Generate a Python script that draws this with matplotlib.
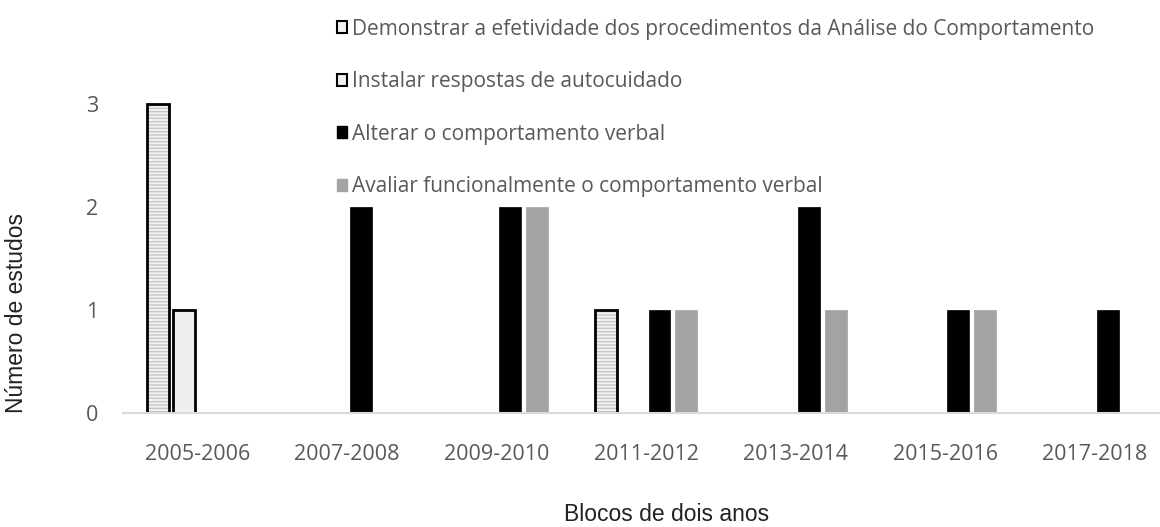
#!/usr/bin/env python3
# -*- coding: utf-8 -*-
"""Bar chart: number of studies per two-year block, by study objective."""

import numpy as np
import matplotlib
matplotlib.use("Agg")
import matplotlib.pyplot as plt
from matplotlib.patches import Patch

# ------------ DATA ------------
BLOCKS = ["2005-2006", "2007-2008", "2009-2010", "2011-2012",
          "2013-2014", "2015-2016", "2017-2018"]
SERIES = [
    "Demonstrar a efetividade dos procedimentos da Análise do Comportamento",
    "Instalar respostas de autocuidado",
    "Alterar o comportamento verbal",
    "Avaliar funcionalmente o comportamento verbal",
]
demonstrar = [3, 0, 0, 1, 0, 0, 0]
instalar   = [1, 0, 0, 0, 0, 0, 0]
alterar    = [0, 2, 2, 1, 2, 1, 1]
avaliar    = [0, 0, 2, 1, 1, 1, 0]
# ------------------------------

TICK_FONT = "Open Sans"
LABEL_FONT = "Liberation Sans"
TEXT_GRAY = "#595959"

fig = plt.figure(figsize=(11.6, 5.27), dpi=100)
ax = fig.add_axes([0.106, 0.2163, 0.902, 0.683])

x = np.arange(len(BLOCKS))
step = 0.179
w = 0.147
offs = [-1.5 * step, -0.5 * step, 0.5 * step, 1.5 * step]

# series 1: light fill with horizontal hatch, black outline drawn on top
ax.bar(x + offs[0], demonstrar, w, color="#f2f2f2", edgecolor="#c4c4c4",
       hatch="-----", linewidth=0)
ax.bar(x + offs[0], demonstrar, w, color="none", edgecolor="black", linewidth=2)
ax.bar(x + offs[1], instalar, w, color="#efefef", edgecolor="black", linewidth=2)
ax.bar(x + offs[2], alterar, w, color="black", edgecolor="black", linewidth=0.5)
ax.bar(x + offs[3], avaliar, w, color="#a3a3a3", edgecolor="#a3a3a3", linewidth=0.5)

ax.set_xlim(-0.5, len(BLOCKS) - 0.5)
ax.set_ylim(0, 3.5)
ax.set_yticks([0, 1, 2, 3])
ax.set_xticks(x)
ax.set_xticklabels(BLOCKS)

for side in ["top", "right", "left"]:
    ax.spines[side].set_visible(False)
ax.spines["bottom"].set_color("#d9d9d9")
ax.spines["bottom"].set_linewidth(1.5)
ax.tick_params(axis="both", length=0, labelsize=15.5, labelcolor=TEXT_GRAY)
ax.tick_params(axis="x", pad=22)
ax.tick_params(axis="y", pad=18)
for lab in ax.get_xticklabels() + ax.get_yticklabels():
    lab.set_fontfamily(TICK_FONT)

fig.text(0.575, 1 - 521 / 527, "Blocos de dois anos", ha="center", va="baseline",
         fontsize=16.5, family=LABEL_FONT, color="#222222")
fig.text(0.014, 0.406, "Número de estudos", ha="center", va="center",
         rotation=90, fontsize=16.5, family=LABEL_FONT, color="#222222")

handles = [
    Patch(facecolor="#f2f2f2", edgecolor="black", linewidth=1.5),
    Patch(facecolor="#efefef", edgecolor="black", linewidth=1.5),
    Patch(facecolor="black", edgecolor="black"),
    Patch(facecolor="#a3a3a3", edgecolor="#a3a3a3"),
]
leg = fig.legend(handles, SERIES, loc="upper left", bbox_to_anchor=(0.274, 1.0),
                 frameon=False, handlelength=0.5, handleheight=0.5,
                 handletextpad=0.25, labelspacing=1.51,
                 prop={"family": TICK_FONT, "size": 15})
for t in leg.get_texts():
    t.set_color(TEXT_GRAY)

plt.savefig("out.png", dpi=100)
plt.close(fig)
